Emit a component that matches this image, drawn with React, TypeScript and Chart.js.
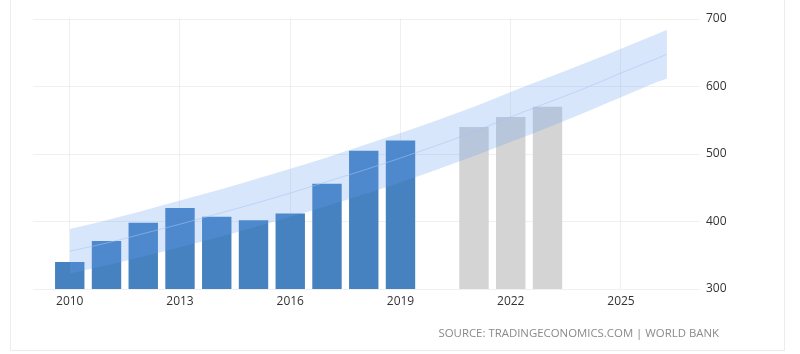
import React, { useEffect, useRef } from "react";
import { Chart, registerables } from "chart.js";

Chart.register(...registerables);

const ACTUAL_YEARS = [2010, 2011, 2012, 2013, 2014, 2015, 2016, 2017, 2018, 2019];
const ACTUAL_VALUES = [340, 371, 398, 420, 407, 402, 412, 456, 505, 520];
const FORECAST_YEARS = [2021, 2022, 2023];
const FORECAST_VALUES = [540, 555, 570];

const BAND_YEARS = [2010, 2011, 2012, 2013, 2014, 2015, 2016, 2017, 2018, 2019, 2020, 2021, 2022, 2023, 2024, 2025, 2026, 2026.25];
const BAND_UPPER = [389, 402, 416, 431, 446, 462, 478, 495, 513, 531, 550, 570, 592, 613, 634, 656, 678, 684];
const BAND_LOWER = [323, 335, 348, 362, 376, 391, 407, 423, 440, 458, 477, 497, 518, 539, 561, 584, 607, 612];
const TREND = [356, 368, 382, 396, 411, 426, 442, 459, 476, 494, 513, 533, 555, 576, 597, 620, 642, 648];

const X_TICKS = [2010, 2013, 2016, 2019, 2022, 2025];
const Y_TICKS = [300, 400, 500, 600, 700];
const SOURCE_TEXT = "SOURCE: TRADINGECONOMICS.COM | WORLD BANK";

const FONT = "'Open Sans', 'Noto Sans', sans-serif";

export default function App() {
  const ref = useRef<HTMLCanvasElement | null>(null);

  useEffect(() => {
    if (!ref.current) return;
    const pts = (xs: number[], ys: number[]) => xs.map((x, i) => ({ x, y: ys[i] }));
    const lineCommon = {
      type: "line",
      pointRadius: 0,
      tension: 0.4,
      cubicInterpolationMode: "monotone",
      order: 0,
    };
    const chart = new Chart(ref.current, {
      type: "bar",
      data: {
        datasets: [
          {
            ...lineCommon,
            label: "upper",
            data: pts(BAND_YEARS, BAND_UPPER),
            borderWidth: 0,
            borderColor: "rgba(0,0,0,0)",
            fill: "+1",
            backgroundColor: "rgba(100,160,240,0.26)",
          },
          {
            ...lineCommon,
            label: "lower",
            data: pts(BAND_YEARS, BAND_LOWER),
            borderWidth: 0,
            borderColor: "rgba(0,0,0,0)",
            fill: false,
          },
          {
            ...lineCommon,
            label: "trend",
            data: pts(BAND_YEARS, TREND),
            borderWidth: 1,
            borderColor: "rgba(185,210,245,0.55)",
            fill: false,
          },
          {
            type: "bar",
            label: "actual",
            data: pts(ACTUAL_YEARS, ACTUAL_VALUES),
            backgroundColor: "#4682c0",
            grouped: false,
            categoryPercentage: 1,
            barPercentage: 0.8,
            order: 1,
          },
          {
            type: "bar",
            label: "forecast",
            data: pts(FORECAST_YEARS, FORECAST_VALUES),
            backgroundColor: "#d4d4d4",
            grouped: false,
            categoryPercentage: 1,
            barPercentage: 0.8,
            order: 1,
          },
        ],
      },
      options: {
        animation: false,
        responsive: false,
        maintainAspectRatio: false,
        layout: { padding: { left: 33, top: 19, right: 0, bottom: 41 } },
        plugins: { legend: { display: false }, tooltip: { enabled: false } },
        scales: {
          x: {
            type: "linear",
            offset: false,
            min: 2009,
            max: 2027.15,
            afterBuildTicks: (s: any) => {
              s.ticks = X_TICKS.map((v) => ({ value: v }));
            },
            afterFit: (s: any) => {
              s.height = 24;
            },
            grid: { color: "rgba(0,0,0,0.06)", drawTicks: false, offset: false },
            border: { display: false },
            ticks: {
              padding: 5,
              color: "#333",
              font: { family: FONT, size: 12 },
              callback: (v: any) => String(v),
              maxRotation: 0,
            },
          },
          y: {
            position: "right",
            min: 300,
            max: 700,
            afterBuildTicks: (s: any) => {
              s.ticks = Y_TICKS.map((v) => ({ value: v }));
            },
            afterFit: (s: any) => {
              s.width = 100;
            },
            grid: { color: "rgba(0,0,0,0.06)", drawTicks: false },
            border: { display: false },
            ticks: {
              padding: 6,
              color: "#333",
              font: { family: FONT, size: 12 },
              callback: (v: any) => String(v),
            },
          },
        },
      },
    } as any);
    return () => chart.destroy();
  }, []);

  return (
    <div style={{ position: "absolute", left: 0, top: 0, width: 800, height: 354, background: "#fff", overflow: "hidden" }}>
      <div
        style={{
          position: "absolute",
          left: 10,
          top: -2,
          width: 775,
          height: 353,
          border: "1px solid #ececec",
          boxSizing: "border-box",
        }}
      />
      <canvas ref={ref} width={800} height={354} style={{ position: "absolute", left: 0, top: 0, width: 800, height: 354 }} />
      <div
        style={{
          position: "absolute",
          right: 81,
          top: 325,
          fontFamily: FONT,
          fontSize: 11.4,
          color: "#8a8a8a",
          whiteSpace: "nowrap",
          lineHeight: "16px",
        }}
      >
        {SOURCE_TEXT}
      </div>
    </div>
  );
}
